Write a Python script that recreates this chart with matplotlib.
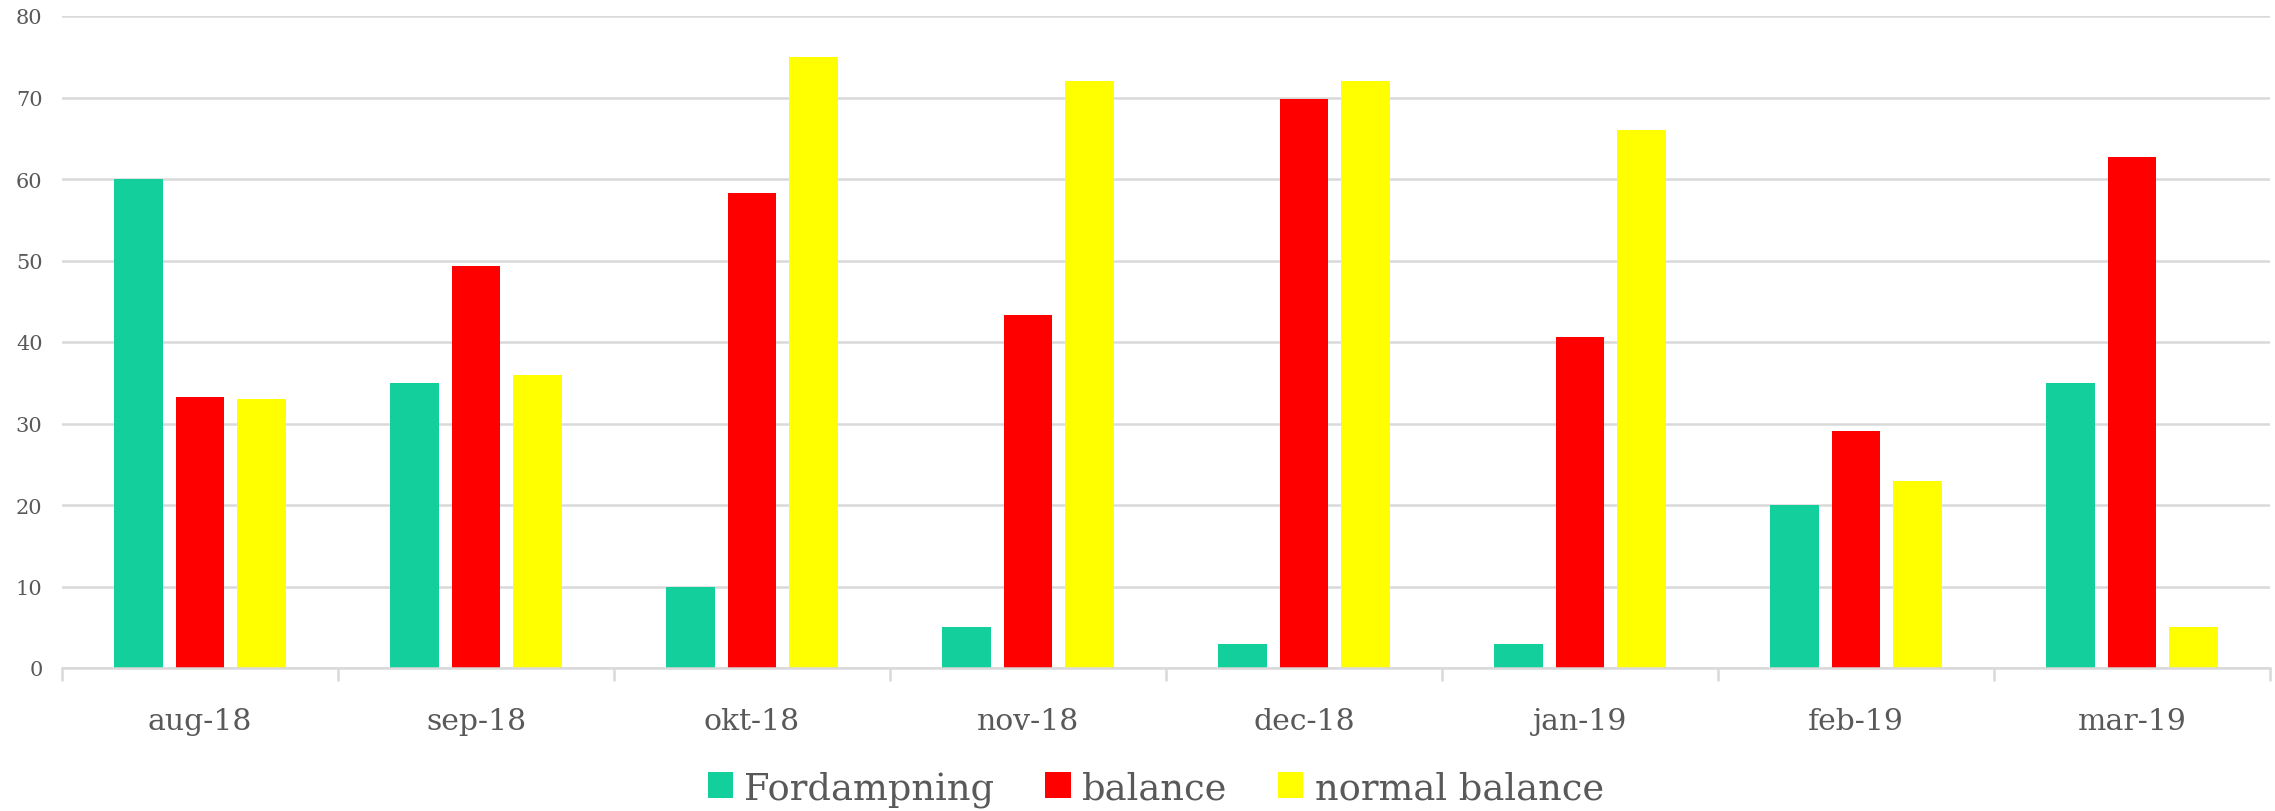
import matplotlib
matplotlib.use("Agg")
import matplotlib.pyplot as plt
import numpy as np

months = ["aug-18", "sep-18", "okt-18", "nov-18", "dec-18", "jan-19", "feb-19", "mar-19"]
fordampning = [60, 35, 10, 5, 3, 3, 20, 35]
balance = [33.2, 49.3, 58.3, 43.3, 69.8, 40.6, 29.1, 62.7]
normal_balance = [33, 36, 75, 72, 72, 66, 23, 5]
series_names = ["Fordampning", "balance", "normal balance"]
colors = ["#12CF9B", "#FF0000", "#FFFF00"]
yticks = [0, 10, 20, 30, 40, 50, 60, 70, 80]

plt.rcParams['font.family'] = ['DejaVu Serif']
text_color = "#595959"
grid_color = "#D9D9D9"

fig = plt.figure(figsize=(22.75, 8.12), dpi=100)
ax = fig.add_axes([62/2275, 1 - 669/812, (2270-62)/2275, (669-17)/812])

x = np.arange(len(months))
step = 0.2225
width = 0.175
for k, (vals, name, c) in enumerate(zip([fordampning, balance, normal_balance], series_names, colors)):
    ax.bar(x + (k - 1) * step, vals, width=width, color=c, label=name, zorder=3)

ax.set_xlim(-0.5, len(months) - 0.5)
ax.set_ylim(0, 80)
ax.set_yticks(yticks)
ax.set_yticklabels([str(v) for v in yticks], fontsize=15, color=text_color)
ax.yaxis.grid(True, color=grid_color, linewidth=1.8, zorder=0)
ax.tick_params(axis='y', length=0, pad=14)

ax.set_xticks(np.arange(-0.5, len(months)), minor=False)
ax.set_xticklabels([])
ax.tick_params(axis='x', which='major', length=9, width=1.8, color=grid_color)
ax.set_xticks(x, minor=True)
ax.set_xticklabels(months, minor=True, fontsize=21.5, color=text_color)
ax.tick_params(axis='x', which='minor', length=0, pad=28)

for s in ['top', 'right', 'left']:
    ax.spines[s].set_visible(False)
ax.spines['bottom'].set_color(grid_color)
ax.spines['bottom'].set_linewidth(1.8)
ax.spines['bottom'].set_zorder(4)

leg = fig.legend(loc='center', bbox_to_anchor=(0.508, 0.028), ncol=3, frameon=False,
                 fontsize=26.5, handlelength=0.68, handleheight=0.68, handletextpad=0.3,
                 columnspacing=1.4, borderaxespad=0)
for t in leg.get_texts():
    t.set_color(text_color)

fig.savefig("out.png", dpi=100)
